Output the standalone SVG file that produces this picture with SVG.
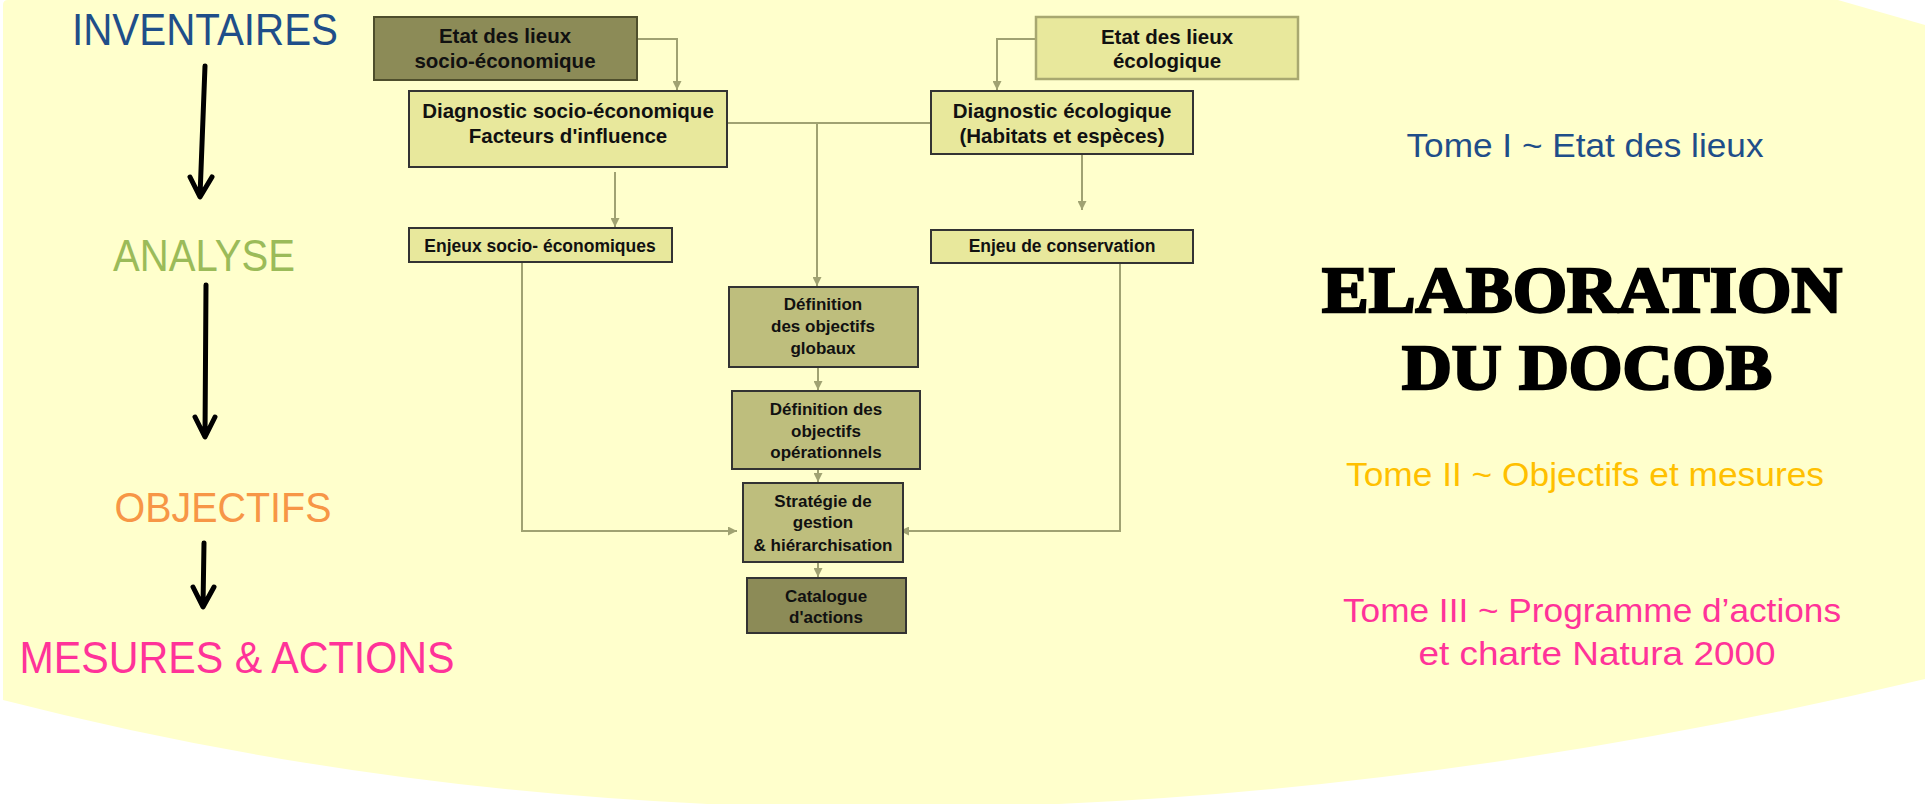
<svg xmlns="http://www.w3.org/2000/svg" width="1927" height="804" viewBox="0 0 1927 804">
<defs>
<marker id="ah" markerUnits="userSpaceOnUse" markerWidth="10" markerHeight="9" refX="9" refY="4.5" orient="auto">
<path d="M0,0 L9,4.5 L0,9 z" fill="#A0A272"/>
</marker>
<style>
.bg{fill:#FFFFCC}
.big{font-family:"Liberation Sans",Arial,sans-serif;text-anchor:middle}
.bx{stroke:#333333;stroke-width:2}
.dark{fill:#8C8B57;stroke:#4E4E2C;stroke-width:2}
.light{fill:#E8E89C}
.mid{fill:#BEBE7D}
.eco{fill:#E8E89C;stroke:#A8A870;stroke-width:2.5}
.t{font-family:"Liberation Sans",Arial,sans-serif;font-weight:bold;text-anchor:middle;fill:#111111}
.t20{font-size:20.5px}
.t17{font-size:17.5px}
.tc{font-size:17px}
.con{fill:none;stroke:#A0A272;stroke-width:2}
.arw{fill:none;stroke:#000;stroke-width:5;stroke-linecap:round;stroke-linejoin:round}
.stencil{font-family:"Liberation Serif","DejaVu Serif",serif;font-weight:bold;text-anchor:middle;fill:#000;stroke:#000;stroke-width:2.5}
</style>
</defs>
<rect width="1927" height="804" fill="#FFFFFF"/>
<path class="bg" d="M3,5 Q3,0 8,0 L1838,0 L1925,25 L1925,679 Q885,926 3,700 Z"/>

<g id="left-column">
<text class="big" x="205" y="45" font-size="45" fill="#1F4E89" textLength="266" lengthAdjust="spacingAndGlyphs">INVENTAIRES</text>
<path class="arw" d="M205,66 L200,196 M190,177 L200,197 L212,177"/>
<text class="big" x="204" y="271" font-size="45" fill="#9BBB59" textLength="182" lengthAdjust="spacingAndGlyphs">ANALYSE</text>
<path class="arw" d="M206,285 L205,436 M195,417 L205,437 L215,417"/>
<text class="big" x="223" y="522" font-size="43" fill="#F79646" textLength="217" lengthAdjust="spacingAndGlyphs">OBJECTIFS</text>
<path class="arw" d="M204,543 L203,606 M193,587 L203,607 L214,587"/>
<text class="big" x="237" y="673" font-size="45" fill="#FF3399" textLength="435" lengthAdjust="spacingAndGlyphs">MESURES &amp; ACTIONS</text>
</g>

<g id="right-column">
<text class="big" x="1585" y="157" font-size="34" fill="#1F4E89" textLength="357" lengthAdjust="spacingAndGlyphs">Tome I ~ Etat des lieux</text>
<text class="stencil" x="1582" y="312" font-size="66" textLength="520" lengthAdjust="spacingAndGlyphs">ELABORATION</text>
<text class="stencil" x="1587" y="389" font-size="64" textLength="370" lengthAdjust="spacingAndGlyphs">DU DOCOB</text>
<text class="big" x="1585" y="486" font-size="34" fill="#FFC000" textLength="478" lengthAdjust="spacingAndGlyphs">Tome II ~ Objectifs et mesures</text>
<text class="big" x="1592" y="622" font-size="34" fill="#FF3399" textLength="498" lengthAdjust="spacingAndGlyphs">Tome III ~ Programme d’actions</text>
<text class="big" x="1597" y="665" font-size="34" fill="#FF3399" textLength="357" lengthAdjust="spacingAndGlyphs">et charte Natura 2000</text>
</g>

<g id="connectors">
<path class="con" d="M637,39 H677 V90" marker-end="url(#ah)"/>
<path class="con" d="M727,123 H931"/>
<path class="con" d="M817,123 V286" marker-end="url(#ah)"/>
<path class="con" d="M615,172 V227" marker-end="url(#ah)"/>
<path class="con" d="M1036,39 H997 V90" marker-end="url(#ah)"/>
<path class="con" d="M1082,154 V210" marker-end="url(#ah)"/>
<path class="con" d="M522,262 V531 H737" marker-end="url(#ah)"/>
<path class="con" d="M1120,263 V531 H900" marker-end="url(#ah)"/>
<path class="con" d="M818,367 V390" marker-end="url(#ah)"/>
<path class="con" d="M818,469 V482" marker-end="url(#ah)"/>
<path class="con" d="M818,562 V577" marker-end="url(#ah)"/>
</g>

<g id="etat-socio">
<rect class="dark" x="374" y="17" width="263" height="63"/>
<text class="t t20" x="505" y="43">Etat des lieux</text>
<text class="t t20" x="505" y="68">socio-économique</text>
</g>
<g id="diag-socio">
<rect class="bx light" x="409" y="91" width="318" height="76"/>
<text class="t t20" x="568" y="118">Diagnostic socio-économique</text>
<text class="t t20" x="568" y="143">Facteurs d'influence</text>
</g>
<g id="enjeux-socio">
<rect class="bx light" x="409" y="228" width="263" height="34"/>
<text class="t t17" x="540" y="252">Enjeux socio- économiques</text>
</g>
<g id="etat-eco">
<rect class="eco" x="1036" y="17" width="262" height="62"/>
<text class="t t20" x="1167" y="44">Etat des lieux</text>
<text class="t t20" x="1167" y="68">écologique</text>
</g>
<g id="diag-eco">
<rect class="bx light" x="931" y="91" width="262" height="63"/>
<text class="t t20" x="1062" y="118">Diagnostic écologique</text>
<text class="t t20" x="1062" y="143">(Habitats et espèces)</text>
</g>
<g id="enjeu-cons">
<rect class="bx light" x="931" y="230" width="262" height="33"/>
<text class="t t17" x="1062" y="252">Enjeu de conservation</text>
</g>
<g id="def-globaux">
<rect class="bx mid" x="729" y="287" width="189" height="80"/>
<text class="t tc" x="823" y="310">Définition</text>
<text class="t tc" x="823" y="332">des objectifs</text>
<text class="t tc" x="823" y="354">globaux</text>
</g>
<g id="def-oper">
<rect class="bx mid" x="732" y="391" width="188" height="78"/>
<text class="t tc" x="826" y="415">Définition des</text>
<text class="t tc" x="826" y="437">objectifs</text>
<text class="t tc" x="826" y="458">opérationnels</text>
</g>
<g id="strategie">
<rect class="bx mid" x="743" y="483" width="160" height="79"/>
<text class="t tc" x="823" y="507">Stratégie de</text>
<text class="t tc" x="823" y="528">gestion</text>
<text class="t tc" x="823" y="551">&amp; hiérarchisation</text>
</g>
<g id="catalogue">
<rect class="dark" x="747" y="578" width="159" height="55" style="stroke:#333333"/>
<text class="t tc" x="826" y="602">Catalogue</text>
<text class="t tc" x="826" y="623">d'actions</text>
</g>
</svg>
